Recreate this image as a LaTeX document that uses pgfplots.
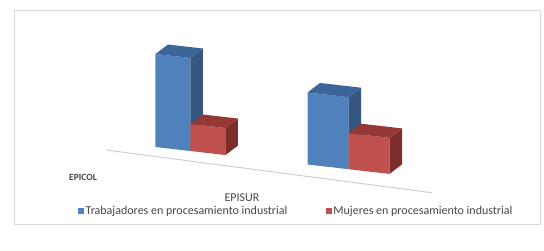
\documentclass[border=0pt]{standalone}
\usepackage{fontspec}
\setmainfont{Carlito}
\usepackage{pgfplots}
\pgfplotsset{compat=1.18}
\definecolor{blueF}{HTML}{4F81BD}
\definecolor{blueT}{HTML}{3C6699}
\definecolor{blueS}{HTML}{355781}
\definecolor{redF}{HTML}{C0504D}
\definecolor{redT}{HTML}{963836}
\definecolor{redS}{HTML}{7B2E2C}
\definecolor{framec}{HTML}{D9D9D9}
\definecolor{floorc}{HTML}{D0D0D0}
\definecolor{txt}{HTML}{454545}
\begin{document}
\begin{tikzpicture}[x=1pt,y=1pt]
\begin{axis}[
  anchor=origin, at={(0,0)},
  x={(1pt,-0.115pt)}, y={(12.5pt,9.5pt)}, z={(0pt,1pt)},
  xmin=-40, xmax=295, ymin=-1.3, ymax=1, zmin=0, zmax=95,
  hide axis, clip=false,
  legend columns=2,
  legend style={at={(axis description cs:0.541,-0.114)}, anchor=center,
    draw=none, fill=none, text=txt,
    font=\fontsize{12}{14}\selectfont,
    nodes={inner sep=1.65pt},
    /tikz/every even column/.append style={column sep=36.7pt}},
  legend image code/.code={\fill[#1] (0pt,-3pt) rectangle (6pt,3pt);},
]
% floor line
\addplot3[floorc, line width=1pt, forget plot] coordinates {(-39.6,-0.795,0) (292.1,-1.275,0)};
% EPICOL - Trabajadores
\addplot3[fill=blueF, draw=none] coordinates {(0,0,0) (35,0,0) (35,0,93) (0,0,93)};
\addlegendentry{Trabajadores en procesamiento industrial}
\addplot3[fill=blueS, draw=none, forget plot] coordinates {(35,0,0) (35,1,0) (35,1,93) (35,0,93)};
\addplot3[fill=blueT, draw=none, forget plot] coordinates {(0,0,93) (35,0,93) (35,1,93) (0,1,93)};
% EPICOL - Mujeres
\addplot3[fill=redF, draw=none] coordinates {(35,0,0) (70,0,0) (70,0,27) (35,0,27)};
\addlegendentry{Mujeres en procesamiento industrial}
\addplot3[fill=redS, draw=none, forget plot] coordinates {(70,0,0) (70,1,0) (70,1,27) (70,0,27)};
\addplot3[fill=redT, draw=none, forget plot] coordinates {(35,0,27) (70,0,27) (70,1,27) (35,1,27)};
% EPISUR - Trabajadores
\addplot3[fill=blueF, draw=none, forget plot] coordinates {(152,0,0) (193,0,0) (193,0,72) (152,0,72)};
\addplot3[fill=blueS, draw=none, forget plot] coordinates {(193,0,0) (193,1,0) (193,1,72) (193,0,72)};
\addplot3[fill=blueT, draw=none, forget plot] coordinates {(152,0,72) (193,0,72) (193,1,72) (152,1,72)};
% EPISUR - Mujeres
\addplot3[fill=redF, draw=none, forget plot] coordinates {(193,0,0) (234,0,0) (234,0,36) (193,0,36)};
\addplot3[fill=redS, draw=none, forget plot] coordinates {(234,0,0) (234,1,0) (234,1,36) (234,0,36)};
\addplot3[fill=redT, draw=none, forget plot] coordinates {(193,0,36) (234,0,36) (234,1,36) (193,1,36)};
\coordinate (O) at (axis cs:0,0,0);
\end{axis}
\begin{scope}[shift={(O)}]
\draw[framec, line width=1pt] (-140.5,137) rectangle (384.5,-77);
\node[text=txt, font=\fontsize{9.5}{10}\selectfont\bfseries] at (-72.5,-30) {EPICOL};
\node[text=txt, font=\fontsize{12}{14}\selectfont] at (86.5,-50.5) {EPISUR};
\end{scope}
\pgfresetboundingbox
\path[use as bounding box] ([shift={(-155.5,147)}]O) rectangle ([shift={(388.5,-103)}]O);
\end{tikzpicture}
\end{document}
